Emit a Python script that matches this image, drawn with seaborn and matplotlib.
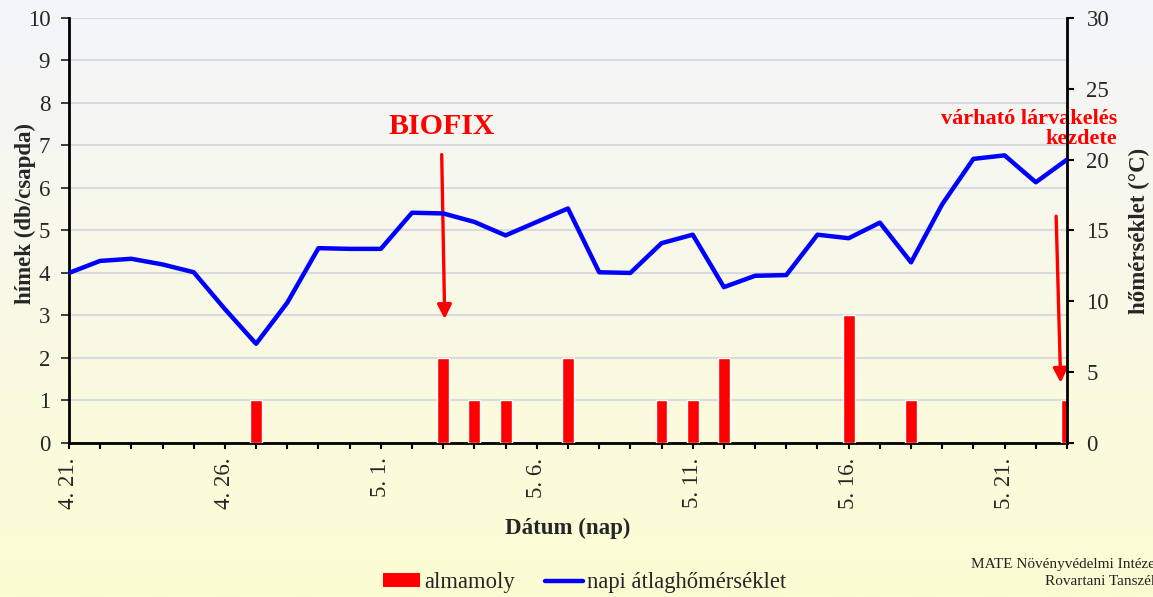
import numpy as np
import pandas as pd
import matplotlib
matplotlib.use("Agg")
import matplotlib.pyplot as plt
import seaborn as sns
from matplotlib.patches import Patch
from matplotlib.lines import Line2D
from matplotlib.colors import LinearSegmentedColormap

# ---- data ----
day_index = list(range(33))  # 4.21 .. 5.23
tick_days = [0, 5, 10, 15, 20, 25, 30]
tick_labels = ["4. 21.", "4. 26.", "5. 1.", "5. 6.", "5. 11.", "5. 16.", "5. 21."]

bar_days = [6, 12, 13, 14, 16, 19, 20, 21, 25, 27, 32]
bar_counts = [1, 2, 1, 1, 2, 1, 1, 2, 3, 1, 1]

temperature = [12.0, 12.85, 13.0, 12.6, 12.05, 9.45, 7.0, 9.9, 13.75, 13.7, 13.7,
               16.25, 16.2, 15.6, 14.65, 15.6, 16.55, 12.05, 12.0, 14.1, 14.7,
               11.0, 11.8, 11.85, 14.7, 14.45, 15.55, 12.75, 16.85, 20.05, 20.3,
               18.4, 20.0]

bars_df = pd.DataFrame({"day": bar_days, "count": bar_counts})
temp_df = pd.DataFrame({"day": day_index, "temp": temperature})

# ---- style ----
sns.set_theme(style="white")
plt.rcParams["font.family"] = ["Liberation Serif", "DejaVu Serif"]

TICK_FS = 16.5
LABEL_FS = 16.5

fig = plt.figure(figsize=(11.53, 5.97), dpi=100)

# background gradient
bg = fig.add_axes([0, 0, 1, 1], zorder=-10)
cmap = LinearSegmentedColormap.from_list("bg", ["#F4F5FA", "#FDFDD3"])
grad = np.linspace(0, 1, 256).reshape(-1, 1)
bg.imshow(grad, aspect="auto", cmap=cmap, extent=[0, 1, 0, 1], origin="upper")
bg.axis("off")

ax = fig.add_axes([0.0598, 0.258, 0.8656, 0.712])
ax.set_facecolor("none")

sns.barplot(data=bars_df, x="day", y="count", native_scale=True, width=0.38,
            color="#FF0000", saturation=1, ax=ax, zorder=3)

ax.set_xlim(0, 32)
ax.set_ylim(0, 10)
ax.set_yticks(range(0, 11))
ax.yaxis.grid(True, color="#D9D9DE", linewidth=1.5, zorder=0)
ax.set_axisbelow(True)
ax.set_xticks(tick_days)
ax.set_xticklabels(tick_labels, rotation=90, fontsize=TICK_FS)
ax.set_xticks(day_index, minor=True)
ax.tick_params(axis="x", which="both", direction="out", length=4.5, width=1.5,
               color="black", bottom=True, pad=6)
ax.tick_params(axis="y", labelsize=TICK_FS, left=False, pad=7.5)
ax.set_xlabel("Dátum (nap)", fontsize=LABEL_FS, fontweight="bold", labelpad=6.5)
ax.set_ylabel("hímek (db/csapda)", fontsize=LABEL_FS, fontweight="bold")
ax.yaxis.set_label_coords(-0.033, 0.54)
for s in ["left", "bottom"]:
    ax.spines[s].set_color("black")
    ax.spines[s].set_linewidth(2)
ax.spines["top"].set_visible(False)
ax.spines["right"].set_visible(False)

ax2 = ax.twinx()
sns.lineplot(data=temp_df, x="day", y="temp", color="#0000FF", linewidth=3.2,
             ax=ax2, zorder=4)
ax2.set_ylim(0, 30)
ax2.set_xlim(0, 32)
ax2.set_yticks(range(0, 31, 5))
ax2.tick_params(axis="y", labelsize=TICK_FS, right=True, direction="out", length=5,
                width=1.5, color="black", pad=9)
ax2.set_ylabel("hőmérséklet (°C)", fontsize=LABEL_FS, fontweight="bold", labelpad=14)
ax2.set_xlabel("")
for s in ["top", "left", "bottom"]:
    ax2.spines[s].set_visible(False)
ax2.spines["right"].set_color("black")
ax2.spines["right"].set_linewidth(2)
ax2.grid(False)

# annotations
ax.text(11.95, 7.12, "BIOFIX", color="#FF0000", fontsize=21.5, fontweight="bold",
        ha="center", va="bottom")
ax.annotate("", xy=(12.05, 2.85), xytext=(11.95, 6.85),
            arrowprops=dict(arrowstyle="-|>,head_width=0.35,head_length=0.7",
                            color="#FF0000", lw=2.4), zorder=6)
ax.text(33.6, 6.92, "várható lárvakelés\nkezdete", color="#FF0000", fontsize=16,
        fontweight="bold", ha="right", va="bottom", linespacing=1.0)
ax.annotate("", xy=(31.8, 1.35), xytext=(31.65, 5.4),
            arrowprops=dict(arrowstyle="-|>,head_width=0.35,head_length=0.7",
                            color="#FF0000", lw=2.4), zorder=6)

# legend
handles = [Patch(facecolor="#FF0000", edgecolor="none"),
           Line2D([0], [0], color="#0000FF", linewidth=3.2)]
fig.legend(handles, ["almamoly", "napi átlaghőmérséklet"], loc="center",
           bbox_to_anchor=(0.507, 0.024), ncol=2, frameon=False, fontsize=16.3,
           handlelength=1.65, handleheight=0.55, handletextpad=0.18,
           columnspacing=1.33)

fig.text(1.005, 0.04, "MATE Növényvédelmi Intézet\nRovartani Tanszék",
         ha="right", va="center", fontsize=11, multialignment="right",
         color="#222222", linespacing=1.35)

fig.savefig("out.png", dpi=100)
